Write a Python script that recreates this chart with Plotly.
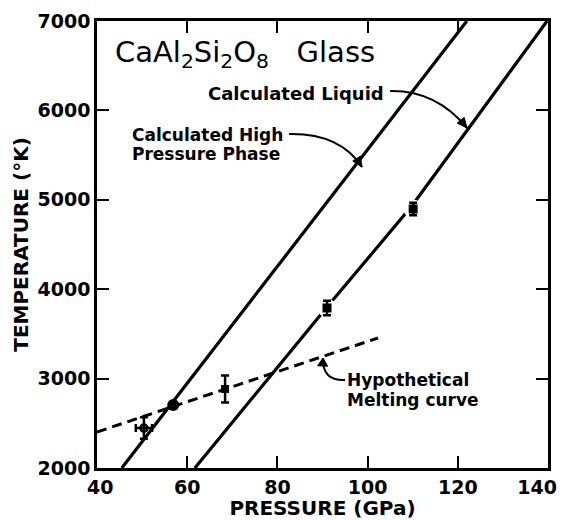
import math
import plotly.graph_objects as go

# ---- data ----
hp_pressure = [45.5, 122.0]          # Calculated high pressure phase
hp_temp = [2000, 7000]
liq_pressure = [61.7, 91.0, 109.8, 139.8]   # Calculated liquid
liq_temp = [2000, 3800, 4930, 7000]
melt_pressure = [40.0, 102.3]         # Hypothetical melting curve
melt_temp = [2403, 3454]
obs_pressure = [50.4, 56.9, 68.4, 91.0, 110.1]
obs_temp = [2447, 2705, 2884, 3790, 4897]
obs_temp_err = [120, 0, 150, 80, 70]
obs_pressure_err = [1.8, 0, 0, 0, 0]
x_ticks = [40, 60, 80, 100, 120, 140]
x_tick_labels = ["\u00a040", "60", "80", "100", "120", "140"]
y_ticks = [2000, 3000, 4000, 5000, 6000, 7000]
y_tick_labels = ["2000", "3000", "4000", "5000", "6000", "7000"]

# ---- layout geometry ----
W, H = 563, 520
ML, MR, MT, MB = 97, 15, 21, 52
X0, X1 = 40, 140
Y0, Y1 = 2000, 7000
PW, PH = W - ML - MR, H - MT - MB


def d(px, py):
    """pixel position -> data coordinates (for annotation placement)"""
    return (X0 + (px - ML) / PW * (X1 - X0),
            Y0 + (MT + PH - py) / PH * (Y1 - Y0))


FONT = "DejaVu Sans"
fig = go.Figure()

fig.add_trace(go.Scatter(x=hp_pressure, y=hp_temp, mode="lines",
                         line=dict(color="black", width=3.2), showlegend=False))
fig.add_trace(go.Scatter(x=liq_pressure, y=liq_temp, mode="lines",
                         line=dict(color="black", width=3.2), showlegend=False))
fig.add_trace(go.Scatter(x=melt_pressure, y=melt_temp, mode="lines",
                         line=dict(color="black", width=3, dash="10px,6px"),
                         showlegend=False))
# invisible companion trace so the overlay x axis (last tick label) is drawn
fig.add_trace(go.Scatter(x=hp_pressure, y=hp_temp, xaxis="x2", yaxis="y",
                         mode="lines", line=dict(color="rgba(0,0,0,0)", width=0),
                         showlegend=False, hoverinfo="skip"))

# white halos that break the liquid line around the two upper points
fig.add_trace(go.Scatter(x=obs_pressure[3:], y=obs_temp[3:], mode="markers",
                         marker=dict(symbol="circle", size=19, color="white"),
                         showlegend=False, hoverinfo="skip"))

styles = [
    dict(symbol="circle-open", size=7, color="black", line=dict(color="black", width=2.5)),
    dict(symbol="circle", size=12, color="black"),
    dict(symbol="square", size=8, color="black"),
    dict(symbol="square", size=9, color="black"),
    dict(symbol="square", size=9, color="black"),
]
for i in range(len(obs_pressure)):
    tr = dict(x=[obs_pressure[i]], y=[obs_temp[i]], mode="markers",
              marker=styles[i], showlegend=False)
    if obs_temp_err[i] > 0:
        tr["error_y"] = dict(type="data", array=[obs_temp_err[i]], color="black",
                             thickness=2.5, width=4)
    if obs_pressure_err[i] > 0:
        tr["error_x"] = dict(type="data", array=[obs_pressure_err[i]], color="black",
                             thickness=2.5, width=4)
    fig.add_trace(go.Scatter(**tr))

ann_font = dict(family=FONT, size=17, color="black", weight="bold")
annotations = []


def label(text, px, py, font=ann_font):
    x, y = d(px, py)
    annotations.append(dict(x=x, y=y, xref="x", yref="y", text=text,
                            showarrow=False, xanchor="left", yanchor="middle",
                            font=font))


label("CaAl<sub>2</sub>Si<sub>2</sub>O<sub>8</sub>\u00a0\u00a0\u00a0Glass", 113, 54,
      font=dict(family=FONT, size=29, color="black"))
label("Calculated Liquid", 206, 93, font=dict(ann_font, size=18))
label("Calculated High", 130, 135)
label("Pressure Phase", 130, 154)
label("Hypothetical", 345, 380)
label("Melting curve", 345, 400)

shapes = []


def leader(p0, c, p1, head_len=10, head_half=4.5):
    a, b = d(*p0)
    ca, cb = d(*c)
    e, f = d(*p1)
    shapes.append(dict(type="path", xref="x", yref="y",
                       path=f"M {a},{b} Q {ca},{cb} {e},{f}",
                       line=dict(color="black", width=2)))
    # filled arrowhead along the end tangent (computed in pixel space)
    tx, ty = p1[0] - c[0], p1[1] - c[1]
    n = math.hypot(tx, ty)
    tx, ty = tx / n, ty / n
    bx, by = p1[0] - tx * head_len, p1[1] - ty * head_len
    l1 = d(bx - ty * head_half, by + tx * head_half)
    l2 = d(bx + ty * head_half, by - tx * head_half)
    shapes.append(dict(type="path", xref="x", yref="y",
                       path=f"M {e},{f} L {l1[0]},{l1[1]} L {l2[0]},{l2[1]} Z",
                       fillcolor="black", line=dict(color="black", width=1)))


leader((390, 91), (436, 90), (467, 128))
leader((289, 134), (340, 133), (362, 167))
leader((345, 380), (322, 381), (323, 358), head_len=8, head_half=5)

tick_font = dict(family=FONT, size=19, color="black", weight="bold")
axis_common = dict(showline=True, linewidth=2.5, linecolor="black", mirror="ticks",
                   ticks="inside", ticklen=12, tickwidth=2, tickcolor="black",
                   showgrid=False, zeroline=False, automargin=False,
                   tickfont=tick_font)

fig.update_layout(
    width=W, height=H, autosize=False,
    margin=dict(l=ML, r=MR, t=MT, b=MB),
    paper_bgcolor="white", plot_bgcolor="white",
    xaxis=dict(range=[X0, X1], tickvals=x_ticks[:-1], ticktext=x_tick_labels[:-1],
               title=dict(text="PRESSURE (GPa)", standoff=6,
                          font=dict(family=FONT, size=20, color="black", weight="bold")),
               **axis_common),
    # the last x label sits left of its tick (as in the original) so it stays inside the page
    xaxis2=dict(range=[X0, X1], overlaying="x", anchor="y", side="bottom",
                tickvals=x_ticks[-1:], ticktext=x_tick_labels[-1:],
                ticks="", showline=False, showgrid=False, zeroline=False,
                automargin=False, ticklabelposition="outside left",
                ticklabeloverflow="allow", ticklabelshift=9, ticklabelstandoff=6,
                tickfont=tick_font),
    yaxis=dict(range=[Y0, Y1], tickvals=y_ticks, ticktext=y_tick_labels,
               title=dict(text="TEMPERATURE (°K)", standoff=4,
                          font=dict(family=FONT, size=20, color="black", weight="bold")),
               **axis_common),
    annotations=annotations,
    shapes=shapes,
)

fig.write_html("out.html", config={"displayModeBar": False},
               post_script="document.body.style.margin='0';document.body.style.padding='0';")
